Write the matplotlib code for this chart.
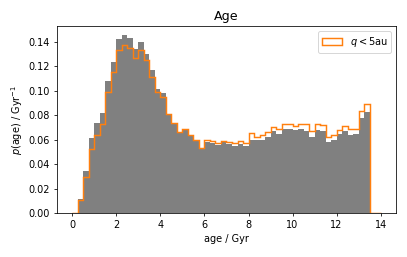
import numpy as np
import matplotlib
matplotlib.use('Agg')
import matplotlib.pyplot as plt

# bin edges: 0 to 14 Gyr in steps of 0.25
bin_edges = np.arange(0, 14.001, 0.25)
bin_centres = 0.5 * (bin_edges[:-1] + bin_edges[1:])

# density of all stars (grey filled histogram)
p_all = [
    0.0, 0.0115, 0.0347, 0.061, 0.0735, 0.082, 0.108, 0.123,
    0.1425, 0.1455, 0.143, 0.134, 0.140, 0.130, 0.1165, 0.101,
    0.098, 0.080, 0.0726, 0.065, 0.068, 0.063, 0.059, 0.053,
    0.0584, 0.0576, 0.0557, 0.0579, 0.0565, 0.055, 0.0565, 0.0549,
    0.060, 0.0598, 0.060, 0.0625, 0.0666, 0.0647, 0.0688, 0.0688,
    0.068, 0.0688, 0.067, 0.0625, 0.068, 0.0674, 0.0584, 0.060,
    0.0647, 0.0666, 0.064, 0.0645, 0.0775, 0.0825, 0.0, 0.0,
]

# density for q < 5 au (orange step histogram)
p_q5 = [
    0.0, 0.0106, 0.0297, 0.052, 0.064, 0.073, 0.099, 0.115,
    0.133, 0.137, 0.135, 0.127, 0.133, 0.125, 0.1115, 0.0985,
    0.0948, 0.0805, 0.0735, 0.066, 0.0685, 0.0638, 0.060, 0.053,
    0.0598, 0.059, 0.0576, 0.059, 0.058, 0.0576, 0.059, 0.0576,
    0.065, 0.0625, 0.064, 0.066, 0.070, 0.069, 0.0726, 0.073,
    0.0712, 0.0731, 0.0726, 0.0674, 0.073, 0.0723, 0.0625, 0.064,
    0.068, 0.0707, 0.069, 0.0688, 0.0835, 0.089, 0.0, 0.0,
]

fig, ax = plt.subplots(figsize=(407 / 70, 257 / 70), dpi=70)

ax.hist(bin_centres, bins=bin_edges, weights=p_all, color='gray')
ax.hist(bin_centres, bins=bin_edges, weights=p_q5, histtype='step',
        color='C1', linewidth=1.5, label=r'$q < 5$au')

ax.set_title('Age', fontsize=13)
ax.set_xlabel('age / Gyr')
ax.set_ylabel(r'$p$(age) / Gyr$^{-1}$')
ax.set_xticks(np.arange(0, 15, 2))
ax.set_yticks(np.arange(0, 0.141, 0.02))
ax.legend(loc='upper right')

fig.subplots_adjust(left=0.140, right=0.973, bottom=0.171, top=0.899)
fig.savefig('out.png', dpi=70)
